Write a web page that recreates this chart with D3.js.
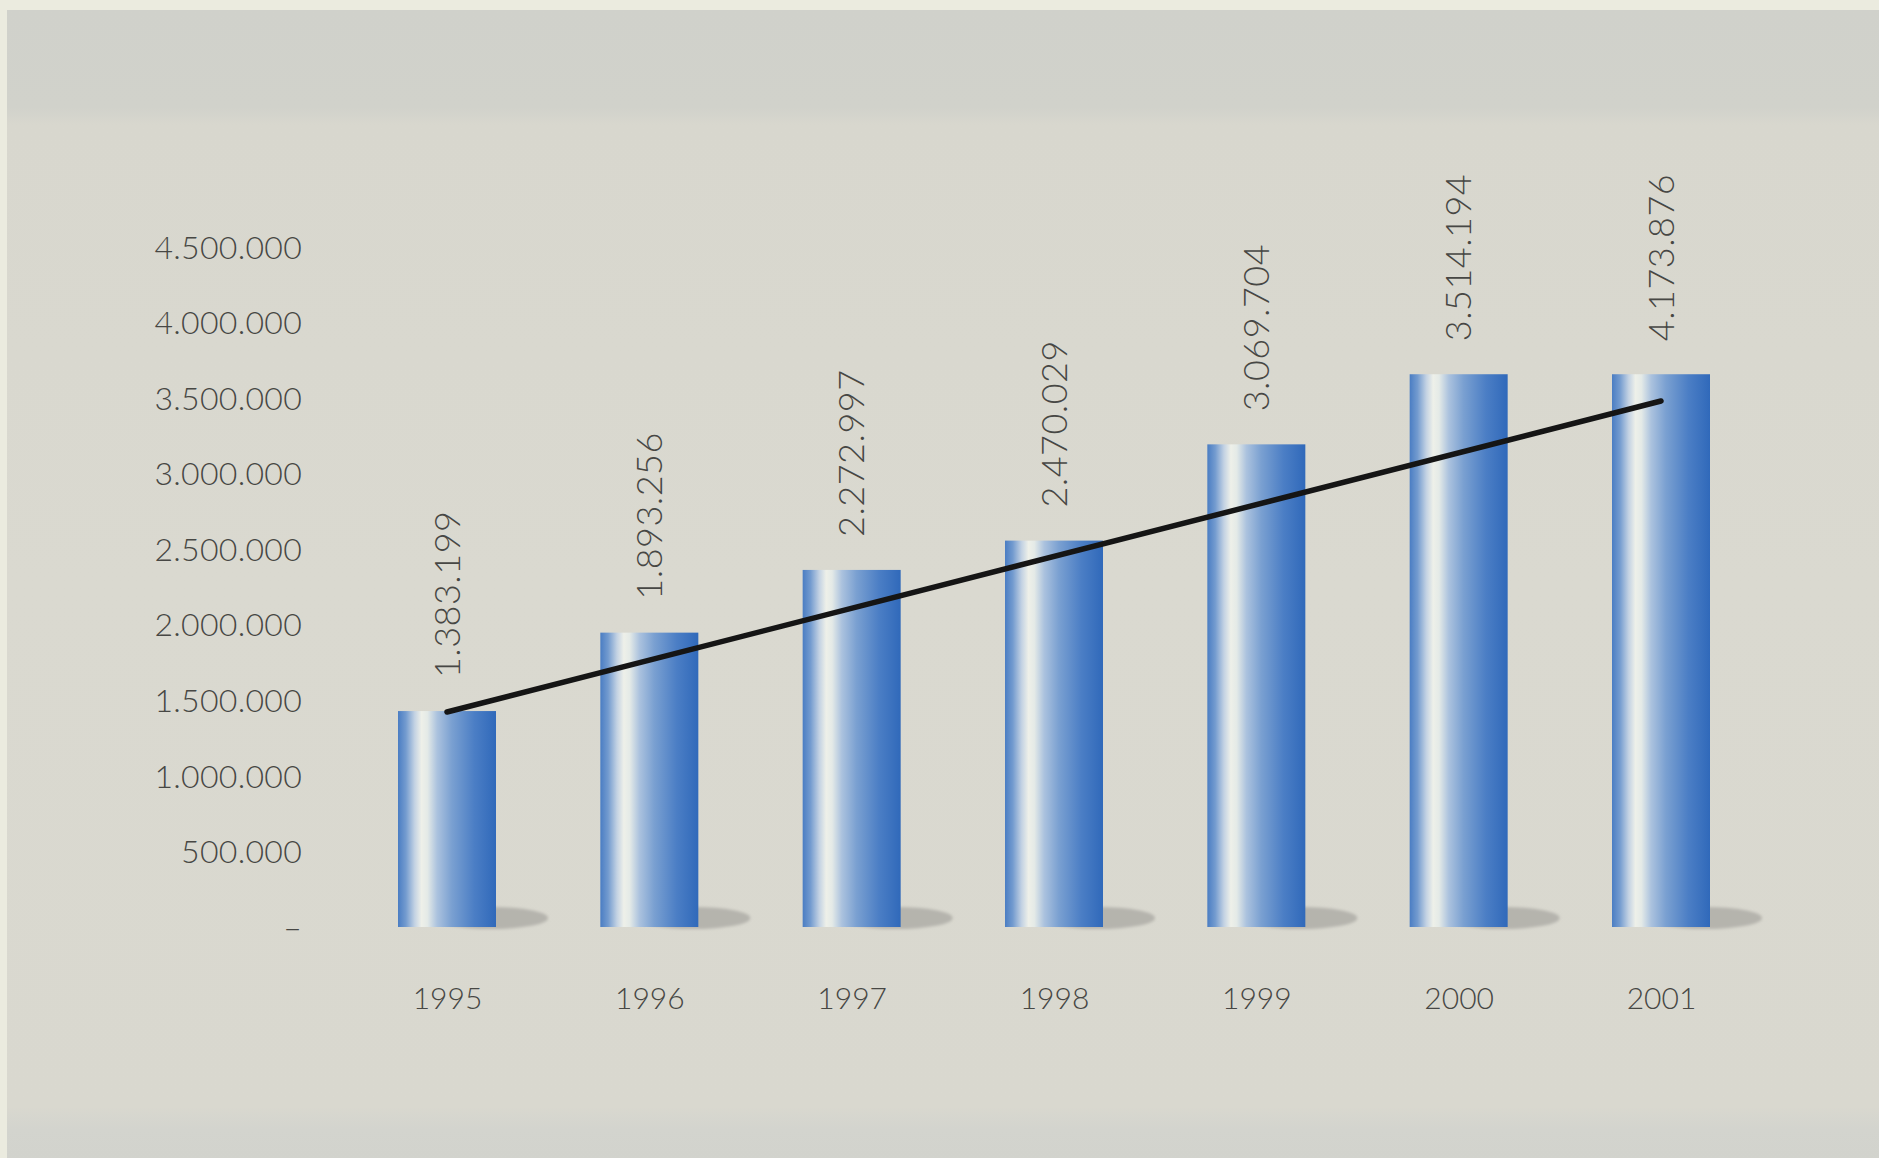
<!DOCTYPE html>
<html>
<head>
<meta charset="utf-8">
<script src="https://cdn.jsdelivr.net/npm/d3@7"></script>
<style>
  html, body { margin: 0; padding: 0; background: #ebebdf; }
  svg { display: block; }
  text { font-family: Lato, "Open Sans", sans-serif; font-weight: 300; fill: #474744; }
</style>
</head>
<body>
<svg id="chart" width="1879" height="1158"></svg>
<script>
// ---- data ----
const years = ["1995", "1996", "1997", "1998", "1999", "2000", "2001"];
// printed value labels
const printedValues = [1383199, 1893256, 2272997, 2470029, 3069704, 3514194, 4173876];
// bar heights as drawn in the picture (read against the axis)
const barValues = [1429000, 1948000, 2363000, 2557000, 3194000, 3658000, 3658000];
// trend line end points (read against the axis)
const trendYears = ["1995", "2001"];
const trendValues = [1423000, 3481000];
// y-axis ticks
const yTicks = [0, 500000, 1000000, 1500000, 2000000, 2500000, 3000000, 3500000, 4000000, 4500000];

// ---- setup ----
const W = 1879, H = 1158;
const svg = d3.select("#chart");
const defs = svg.append("defs");

// background (scanned paper)
const bgGrad = defs.append("linearGradient").attr("id", "bgGrad")
  .attr("x1", 0).attr("x2", 0).attr("y1", 0).attr("y2", 1);
[
  [0, "#d0d1cb"], [0.085, "#d1d2cb"], [0.1, "#d8d7ce"], [0.5, "#dad9d0"],
  [0.955, "#d9d8cf"], [0.975, "#d3d4ce"], [1, "#d2d3cd"]
].forEach(([o, c]) => bgGrad.append("stop").attr("offset", o).attr("stop-color", c));
svg.append("rect").attr("x", 0).attr("y", 0).attr("width", W).attr("height", H).attr("fill", "#ebebdf");
svg.append("rect").attr("x", 7).attr("y", 10).attr("width", W - 7).attr("height", H - 10).attr("fill", "url(#bgGrad)");

// gradient for bars
const grad = defs.append("linearGradient").attr("id", "barGrad")
  .attr("x1", "0%").attr("x2", "100%").attr("y1", "0%").attr("y2", "0%");
[
  [0, "#4a7dc3"], [0.08, "#739bcf"], [0.17, "#c3d2e3"], [0.24, "#eef0e9"], [0.3, "#e4eae7"],
  [0.4, "#abc2de"], [0.55, "#7aa0d1"], [0.78, "#4b7ec5"], [1, "#3069ba"]
].forEach(([o, c]) => grad.append("stop").attr("offset", o).attr("stop-color", c));

const blur = defs.append("filter").attr("id", "soft").attr("x", "-20%").attr("y", "-50%").attr("width", "140%").attr("height", "200%");
blur.append("feGaussianBlur").attr("stdDeviation", 1.6);

// scales
const x = d3.scalePoint().domain(years).range([447, 1661]);
const y = d3.scaleLinear().domain([0, 4500000]).range([927, 247]);
const barW = 98;

// y axis labels
const fmt = d3.formatLocale({ decimal: ",", thousands: ".", grouping: [3], currency: ["", ""] }).format(",d");
const yAxis = d3.axisLeft(y).tickValues(yTicks).tickSize(0).tickPadding(0)
  .tickFormat(d => d === 0 ? "–" : fmt(d));
const gy = svg.append("g").attr("transform", "translate(302,0)").call(yAxis);
gy.select(".domain").remove();
gy.selectAll("text").attr("font-size", 32).attr("font-family", null).attr("fill", "#474744")
  .attr("dy", "0.35em").attr("letter-spacing", 0.3);

// shadows
svg.append("g").selectAll("ellipse").data(years).join("ellipse")
  .attr("cx", d => x(d) + 44)
  .attr("cy", y(0) - 9)
  .attr("rx", 57)
  .attr("ry", 11)
  .attr("fill", "#b5b4ad")
  .attr("filter", "url(#soft)");

// bars
svg.append("g").selectAll("rect").data(years).join("rect")
  .attr("x", d => x(d) - barW / 2)
  .attr("y", (d, i) => y(barValues[i]))
  .attr("width", barW)
  .attr("height", (d, i) => y(0) - y(barValues[i]))
  .attr("fill", "url(#barGrad)");

// trend line
const line = d3.line().x(d => x(d[0])).y(d => y(d[1]));
svg.append("path")
  .datum(trendYears.map((yr, i) => [yr, trendValues[i]]))
  .attr("d", line)
  .attr("fill", "none")
  .attr("stroke", "#151515")
  .attr("stroke-width", 5.5)
  .attr("stroke-linecap", "round");

// value labels (rotated)
svg.append("g").selectAll("text").data(years).join("text")
  .attr("transform", (d, i) => `translate(${x(d)},${y(barValues[i]) - 33}) rotate(-90)`)
  .attr("dy", "0.35em")
  .attr("text-anchor", "start")
  .attr("font-size", 36)
  .attr("letter-spacing", 0.5)
  .text((d, i) => fmt(printedValues[i]));

// x-axis labels
const xAxis = d3.axisBottom(x).tickSize(0).tickPadding(0);
const gx = svg.append("g").attr("transform", `translate(0,${y(0) + 71})`).call(xAxis);
gx.select(".domain").remove();
gx.selectAll("text").attr("font-size", 30).attr("font-family", null).attr("fill", "#474744")
  .attr("dy", "0.35em");
</script>
</body>
</html>
